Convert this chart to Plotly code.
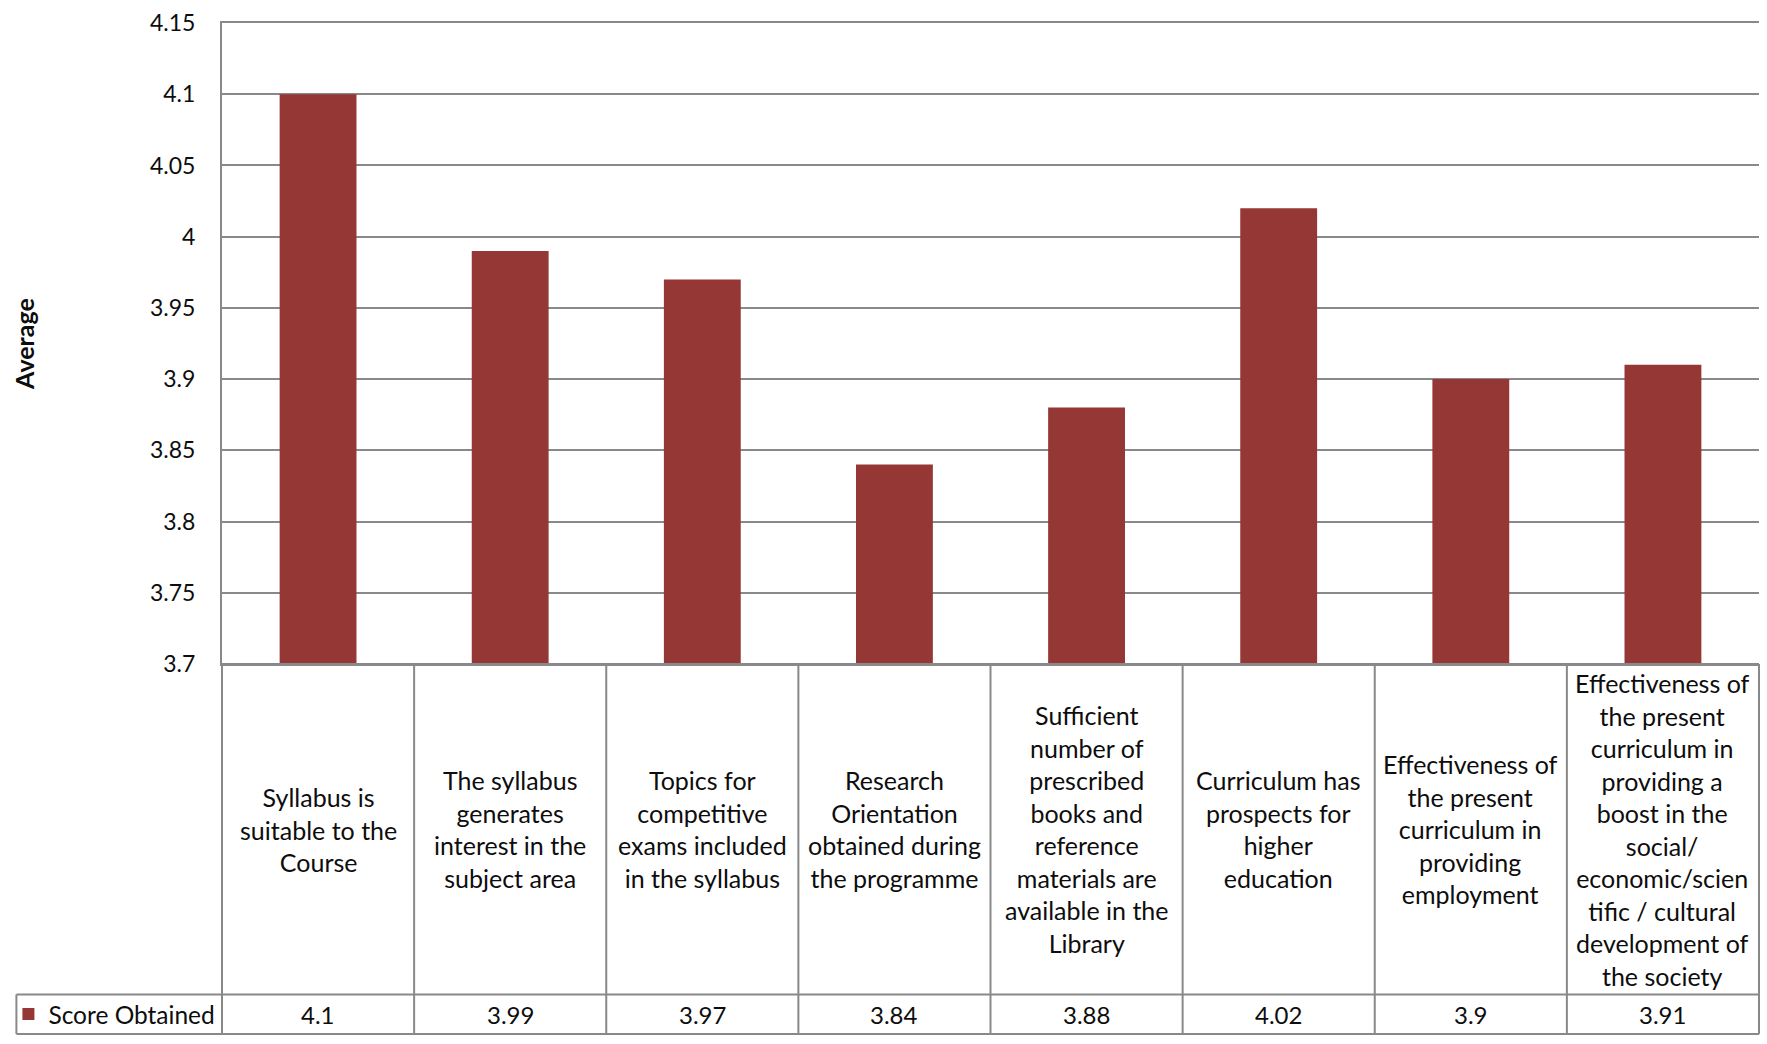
import plotly.graph_objects as go

categories = [
    "Syllabus is<br>suitable to the<br>Course",
    "The syllabus<br>generates<br>interest in the<br>subject area",
    "Topics for<br>competitive<br>exams included<br>in the syllabus",
    "Research<br>Orientation<br>obtained during<br>the programme",
    "Sufficient<br>number of<br>prescribed<br>books and<br>reference<br>materials are<br>available in the<br>Library",
    "Curriculum has<br>prospects for<br>higher<br>education",
    "Effectiveness of<br>the present<br>curriculum in<br>providing<br>employment",
    "Effectiveness of<br>the present<br>curriculum in<br>providing a<br>boost in the<br>social/<br>economic/scien<br>tific / cultural<br>development of<br>the society",
]
scores = [4.1, 3.99, 3.97, 3.84, 3.88, 4.02, 3.9, 3.91]
series_name = "Score Obtained"
y_ticks = [3.7, 3.75, 3.8, 3.85, 3.9, 3.95, 4.0, 4.05, 4.1, 4.15]
y_ticktext = ["3.7", "3.75", "3.8", "3.85", "3.9", "3.95", "4", "4.05", "4.1", "4.15"]

W, H = 1767, 1044
PLOT_L, PLOT_R, PLOT_T, PLOT_B = 219, 1759, 20, 668
ML, MR, MT, MB = PLOT_L, W - PLOT_R, PLOT_T, H - PLOT_B
plot_w = W - ML - MR
plot_h = H - MT - MB

BAR = "#953735"
LINE = "#898989"
FONT = "Lato, 'Open Sans', sans-serif"
TXT = "#0d0d0d"

def py(page_y):
    return (PLOT_B - page_y) / plot_h

def px(page_x):
    return (page_x - PLOT_L) / plot_w

n = len(categories)
xs = list(range(n))

fig = go.Figure()
fig.add_trace(go.Bar(
    x=xs, y=scores, name=series_name, width=0.4,
    marker=dict(color=BAR, line=dict(width=0)),
    showlegend=True,
))

row_top = py(1002)
row_bot = py(1042)
legend_left = px(13)

shapes = []
for k in range(n + 1):
    shapes.append(dict(type="line", xref="paper", yref="paper",
                       x0=k / n, x1=k / n, y0=0, y1=row_bot,
                       line=dict(color=LINE, width=2)))
for yy, x0 in [(0, 0), (row_top, legend_left), (row_bot, legend_left)]:
    shapes.append(dict(type="line", xref="paper", yref="paper", x0=x0, x1=1,
                       y0=yy, y1=yy, line=dict(color=LINE, width=2)))
shapes.append(dict(type="line", xref="paper", yref="paper", x0=legend_left, x1=legend_left,
                   y0=row_top, y1=row_bot, line=dict(color=LINE, width=2)))

annotations = []
hdr_mid = row_top / 2
for i, (c, v) in enumerate(zip(categories, scores)):
    annotations.append(dict(x=i, xref="x", y=hdr_mid, yref="paper", text=c,
                            showarrow=False, xanchor="center", yanchor="middle",
                            align="center", font=dict(family=FONT, size=25, color=TXT)))
    annotations.append(dict(x=i, xref="x", y=(row_top + row_bot) / 2, yref="paper",
                            text=f"{v:g}", showarrow=False, xanchor="center", yanchor="middle",
                            font=dict(family=FONT, size=24, color=TXT)))
annotations.append(dict(x=px(20), xref="paper", y=py(344), yref="paper", text="<b>Average</b>",
                        textangle=-90, showarrow=False, xanchor="center", yanchor="middle",
                        font=dict(family=FONT, size=25, color=TXT)))

fig.update_layout(
    width=W, height=H,
    margin=dict(l=ML, r=MR, t=MT, b=MB, pad=0),
    paper_bgcolor="white", plot_bgcolor="white",
    font=dict(family=FONT, size=23, color=TXT),
    showlegend=True,
    legend=dict(x=px(5), xanchor="left", y=(row_top + row_bot) / 2, yanchor="middle",
                bgcolor="rgba(0,0,0,0)", borderwidth=0,
                font=dict(family=FONT, size=24.5, color=TXT),
                itemwidth=30, tracegroupgap=0),
    xaxis=dict(range=[-0.5, n - 0.5], showticklabels=False, showgrid=False,
               zeroline=False, showline=True, mirror=True, linecolor=LINE, linewidth=2,
               ticks=""),
    yaxis=dict(range=[3.7, 4.15], tickvals=y_ticks, ticktext=y_ticktext,
               showgrid=True, gridcolor=LINE, gridwidth=2, zeroline=False,
               showline=True, linecolor=LINE, linewidth=2, ticks="",
               ticklabelstandoff=20, ticklabeloverflow="allow",
               tickfont=dict(family=FONT, size=23, color=TXT)),
    shapes=shapes,
    annotations=annotations,
    bargap=0.6,
)

fig.write_html("out.html", config={"displayModeBar": False},
               post_script="document.body.style.margin='0';")
